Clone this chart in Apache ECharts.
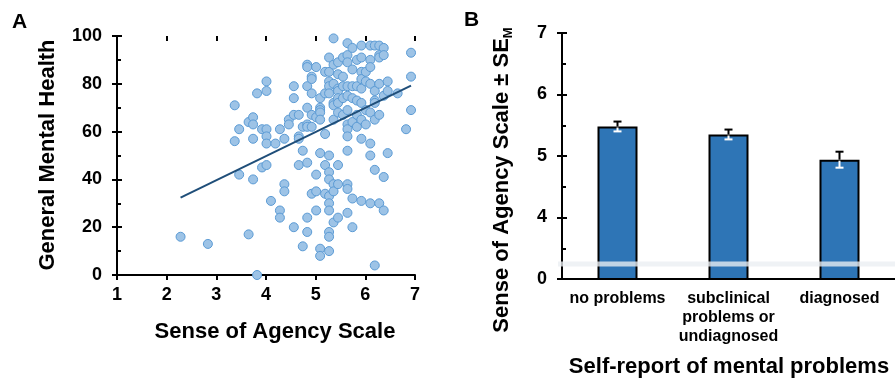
<!DOCTYPE html>
<html>
<head>
<meta charset="utf-8">
<script src="https://cdn.jsdelivr.net/npm/echarts@6/dist/echarts.min.js"></script>
<style>
html,body{margin:0;padding:0;background:#fff;}
#main{width:895px;height:381px;}
</style>
</head>
<body>
<div id="main"></div>
<script>
// ---------- Panel A data ----------
const agencyScore = [
  2.28,2.83,3.82,3.65,3.37,3.37,3.46,3.46,3.65,3.74,3.74,3.74,3.74,3.82,3.92,4.01,4.01,4.01,4.01,4.01,
  3.92,4.01,4.10,4.19,4.28,4.37,4.28,4.28,4.37,4.37,4.46,4.46,4.56,4.56,4.56,4.56,4.66,4.66,4.66,4.66,
  4.74,4.74,4.74,4.83,4.83,4.83,4.83,4.83,4.83,4.83,4.83,4.83,4.92,4.92,4.92,4.92,4.92,4.92,5.01,5.01,
  5.01,5.01,5.01,5.09,5.09,5.09,5.09,5.09,5.09,5.09,5.09,5.19,5.19,5.19,5.19,5.19,5.27,5.27,5.27,5.27,
  5.27,5.27,5.27,5.27,5.27,5.27,5.27,5.27,5.27,5.27,5.36,5.36,5.36,5.36,5.36,5.36,5.36,5.36,5.36,5.45,
  5.45,5.45,5.45,5.45,5.45,5.45,5.45,5.45,5.45,5.55,5.55,5.55,5.55,5.55,5.64,5.64,5.64,5.64,5.64,5.64,
  5.64,5.64,5.64,5.64,5.64,5.64,5.64,5.74,5.74,5.74,5.74,5.74,5.74,5.74,5.83,5.83,5.83,5.83,5.83,5.92,
  5.92,5.92,5.92,5.92,5.92,5.92,5.92,5.92,6.01,6.01,6.01,6.01,6.10,6.10,6.10,6.10,6.10,6.10,6.10,6.10,
  6.19,6.19,6.19,6.19,6.19,6.19,6.19,6.28,6.28,6.28,6.28,6.28,6.28,6.37,6.37,6.37,6.37,6.37,6.45,6.45,
  6.45,6.65,6.82,6.92,6.92,6.92
];
const mentalHealth = [
  16,13,0,17,71,56,61,42,64,66,63,57,40,76,61,81,77,61,58,55,
  45,46,31,55,61,57,27,24,38,35,65,63,79,74,67,20,67,58,57,46,
  52,62,12,88,87,79,70,63,62,47,24,18,83,82,76,67,62,34,87,66,
  42,35,27,74,70,69,68,65,51,11,8,85,76,59,46,34,91,85,81,79,
  76,50,43,40,33,30,27,18,16,10,99,88,80,72,71,65,38,35,22,89,
  84,78,77,74,72,68,46,38,24,91,83,79,74,67,97,92,89,79,75,69,
  63,61,58,52,38,36,26,95,86,79,74,64,32,20,90,79,73,67,62,96,
  91,85,82,78,72,65,57,31,85,81,69,63,96,90,87,80,68,55,50,30,
  96,77,73,72,65,44,4,96,92,91,80,67,30,95,92,75,41,27,81,77,
  51,76,61,93,83,69
];
const trendX = [2.28, 6.92];
const trendY = [32.4, 79.2];

// ---------- Panel B data ----------
const groups = ['no problems', 'subclinical\nproblems or\nundiagnosed', 'diagnosed'];
const groupMeans = [5.48, 5.35, 4.94];
const groupSE = [0.08, 0.08, 0.13];
const breakValue = [3.245];

const FONT = '"Liberation Sans", Arial, sans-serif';
const chart = echarts.init(document.getElementById('main'), null, {renderer: 'canvas'});

const tickLabel = {color: '#000', fontFamily: FONT, fontWeight: 'bold', fontSize: 18};

function axisPair(base, extraOuter, extraInner) {
  return [
    Object.assign({}, base, {
      axisLine: {show: true, onZero: false, lineStyle: {color: '#000', width: 2}},
      axisTick: {show: true, inside: false, length: 5, lineStyle: {color: '#000', width: 2}},
      minorTick: {show: false},
      splitLine: {show: false}
    }, extraOuter),
    Object.assign({}, base, {
      axisLine: {show: false, onZero: false},
      axisTick: {show: true, inside: true, length: 5, lineStyle: {color: '#000', width: 2}},
      axisLabel: {show: false},
      splitLine: {show: false}
    }, extraInner)
  ];
}

const xA = axisPair(
  {type: 'value', gridIndex: 0, min: 1, max: 7, interval: 1},
  {axisLabel: Object.assign({margin: 11}, tickLabel)},
  {minorTick: {show: false}}
);
const yA = axisPair(
  {type: 'value', gridIndex: 0, min: 0, max: 100, interval: 20, position: 'left'},
  {axisLabel: Object.assign({margin: 15}, tickLabel)},
  {minorTick: {show: true, splitNumber: 2, length: 4, lineStyle: {color: '#000', width: 2}}}
);
const yB = axisPair(
  {type: 'value', gridIndex: 1, min: 3, max: 7, interval: 1, position: 'left'},
  {axisLabel: Object.assign({margin: 15, formatter: v => (v === 3 ? '0' : String(v))}, tickLabel)},
  {minorTick: {show: true, splitNumber: 2, length: 4, lineStyle: {color: '#000', width: 2}}}
);

// measure the B y-title so the subscript can follow it
const mainTitleB = 'Sense of Agency Scale ± SE';
const subTitleB = 'M';
const mctx = document.createElement('canvas').getContext('2d');
mctx.font = 'bold 22px ' + FONT;
const wMain = mctx.measureText(mainTitleB).width;
mctx.font = 'bold 13px ' + FONT;
const wSub = mctx.measureText(subTitleB).width;
const wTot = wMain + wSub;

const option = {
  animation: false,
  backgroundColor: '#fff',
  grid: [
    {left: 117, top: 36, width: 298, height: 239},
    {left: 562, top: 33, width: 346.5, height: 246}
  ],
  xAxis: [
    xA[0], xA[1],
    {
      type: 'category', gridIndex: 1, data: groups,
      axisLine: {show: true, onZero: false, lineStyle: {color: '#000', width: 2}},
      axisTick: {show: false},
      splitLine: {show: false},
      axisLabel: {color: '#000', fontFamily: FONT, fontWeight: 'bold', fontSize: 16, lineHeight: 19, margin: 10, interval: 0}
    }
  ],
  yAxis: [yA[0], yA[1], yB[0], yB[1]],
  graphic: [
    {type: 'text', x: 12, y: 12, style: {text: 'A', fontFamily: FONT, fontWeight: 'bold', fontSize: 21, fill: '#000'}},
    {type: 'text', x: 464, y: 10, style: {text: 'B', fontFamily: FONT, fontWeight: 'bold', fontSize: 21, fill: '#000'}},
    {type: 'text', x: 48, y: 155, rotation: Math.PI / 2,
      style: {text: 'General Mental Health', fontFamily: FONT, fontWeight: 'bold', fontSize: 22, fill: '#000', align: 'center', verticalAlign: 'middle'}},
    {type: 'text', x: 275, y: 332,
      style: {text: 'Sense of Agency Scale', fontFamily: FONT, fontWeight: 'bold', fontSize: 22, fill: '#000', align: 'center', verticalAlign: 'middle'}},
    {type: 'text', x: 729, y: 367,
      style: {text: 'Self-report of mental problems', fontFamily: FONT, fontWeight: 'bold', fontSize: 22, fill: '#000', align: 'center', verticalAlign: 'middle'}},
    {
      type: 'group', x: 502, y: 180, rotation: Math.PI / 2,
      children: [
        {type: 'text', x: -wTot / 2, y: 0,
          style: {text: mainTitleB, fontFamily: FONT, fontWeight: 'bold', fontSize: 22, fill: '#000', align: 'left', verticalAlign: 'middle'}},
        {type: 'text', x: -wTot / 2 + wMain, y: 6,
          style: {text: subTitleB, fontFamily: FONT, fontWeight: 'bold', fontSize: 13, fill: '#000', align: 'left', verticalAlign: 'middle'}}
      ]
    }
  ],
  series: [
    {
      type: 'scatter', xAxisIndex: 0, yAxisIndex: 0,
      data: agencyScore.map((x, i) => [x, mentalHealth[i]]),
      symbolSize: 9,
      itemStyle: {color: '#9DC3E6', borderColor: '#5B9BD5', borderWidth: 1, opacity: 1},
      z: 2
    },
    {
      type: 'line', xAxisIndex: 0, yAxisIndex: 0,
      data: trendX.map((x, i) => [x, trendY[i]]),
      symbol: 'none',
      lineStyle: {color: '#1F4E79', width: 2},
      z: 3
    },
    {
      type: 'bar', xAxisIndex: 2, yAxisIndex: 2,
      data: groupMeans,
      barWidth: 40,
      itemStyle: {color: '#2E75B6', borderColor: '#000', borderWidth: 2},
      z: 2
    },
    {
      type: 'custom', xAxisIndex: 2, yAxisIndex: 2,
      data: groupMeans.map((m, i) => [i, m, groupSE[i]]),
      z: 5,
      renderItem: function (params, api) {
        const i = api.value(0), m = api.value(1), se = api.value(2);
        const top = api.coord([i, m + se]);
        const mid = api.coord([i, m]);
        const bot = api.coord([i, m - se]);
        const cap = 4;
        return {
          type: 'group',
          children: [
            {type: 'line', shape: {x1: top[0], y1: top[1], x2: mid[0], y2: mid[1]}, style: {stroke: '#000', lineWidth: 2}},
            {type: 'line', shape: {x1: top[0] - cap, y1: top[1], x2: top[0] + cap, y2: top[1]}, style: {stroke: '#000', lineWidth: 2}},
            {type: 'line', shape: {x1: mid[0], y1: mid[1] + 1, x2: bot[0], y2: bot[1]}, style: {stroke: '#fff', lineWidth: 2}},
            {type: 'line', shape: {x1: bot[0] - cap, y1: bot[1], x2: bot[0] + cap, y2: bot[1]}, style: {stroke: '#fff', lineWidth: 2}}
          ]
        };
      }
    },
    {
      type: 'custom', xAxisIndex: 2, yAxisIndex: 2,
      data: breakValue.map(v => [0, v]),
      z: 6,
      clip: false,
      silent: true,
      renderItem: function (params, api) {
        const cs = params.coordSys;
        const yTop = api.coord([0, api.value(1) + 0.04])[1];
        const yBot = api.coord([0, api.value(1) - 0.04])[1];
        return {
          type: 'rect',
          shape: {x: cs.x - 4, y: yTop, width: cs.width + 4, height: yBot - yTop},
          style: {fill: 'rgba(235,238,242,0.78)'}
        };
      }
    }
  ]
};
chart.setOption(option);
</script>
</body>
</html>
